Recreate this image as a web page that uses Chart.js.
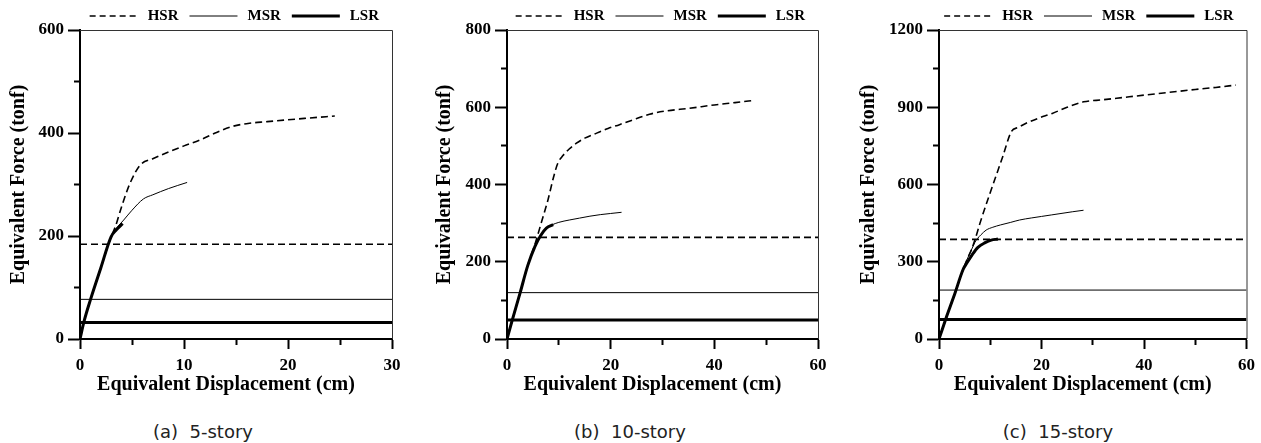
<!DOCTYPE html>
<html>
<head>
<meta charset="utf-8">
<script src="https://cdn.jsdelivr.net/npm/chart.js@4.4.1/dist/chart.umd.min.js"></script>
<style>
  body { margin: 0; background: #fff; width: 1261px; height: 443px; overflow: hidden; position: relative; }
  canvas { position: absolute; top: 0; }
  .caption { position: absolute; top: 420px; line-height: 24px; transform: translateX(-50%);
    font-family: "DejaVu Sans", sans-serif; font-size: 18px; color: #222; white-space: pre; }
</style>
</head>
<body>
<canvas id="c0" width="420" height="400" style="left:0px"></canvas>
<canvas id="c1" width="420" height="400" style="left:420px"></canvas>
<canvas id="c2" width="421" height="400" style="left:840px"></canvas>
<div class="caption" style="left:203px">(a)  5-story</div>
<div class="caption" style="left:630px">(b)  10-story</div>
<div class="caption" style="left:1058px">(c)  15-story</div>
<script>
// pushover curves: displacement (cm) vs. base shear (tonf)
// 5-story
const disp5HSR = [0, 0.4, 1, 2, 3, 3.4, 4, 4.8, 5.8, 7, 8.6, 10, 11.5, 13, 14.7, 16.3, 18, 19.6, 22, 24.5];
const force5HSR = [0, 35, 76, 138, 199, 218, 257, 302, 338, 350, 364, 375, 386, 400, 413, 419, 422, 425, 429, 433];
const disp5MSR = [0, 0.4, 1, 2, 3, 3.5, 4.2, 5, 6.1, 7, 8.5, 10.3];
const force5MSR = [0, 35, 76, 138, 199, 215, 231, 250, 272, 280, 292, 304];
const disp5LSR = [0, 0.4, 1, 2, 3, 3.5, 4.1];
const force5LSR = [0, 35, 76, 138, 199, 212, 224];
const design5 = [184, 77, 32]; // HSR, MSR, LSR

// 10-story
const disp10HSR = [0, 1, 2.5, 4, 5.5, 6.7, 7.9, 9, 9.8, 10.8, 12, 13.4, 15, 17.3, 19.5, 21.7, 24, 27.5, 31, 35, 40, 44, 47.8];
const force10HSR = [0, 48, 118, 190, 250, 305, 360, 420, 455, 475, 492, 507, 520, 533, 545, 555, 566, 582, 591, 597, 606, 612, 618];
const disp10MSR = [0, 1, 2.5, 4, 5.4, 6.5, 7.6, 8.6, 10, 12, 14, 16, 18, 20, 22.1];
const force10MSR = [0, 48, 118, 190, 240, 268, 287, 295, 302, 308, 313, 318, 322, 325, 328];
const disp10LSR = [0, 1, 2.5, 4, 5.4, 6.5, 7.6, 8.9];
const force10LSR = [0, 48, 118, 190, 240, 268, 287, 296];
const design10 = [263, 120, 49];

// 15-story
const disp15HSR = [0, 1.5, 3.1, 4.7, 5.5, 6.3, 7, 8, 9.5, 11, 12.5, 14.1, 15.5, 17, 19.5, 22.1, 25, 28.2, 32, 36, 40, 45, 50, 54, 57.9];
const force15HSR = [0, 88, 177, 270, 310, 345, 384, 450, 540, 626, 712, 805, 822, 838, 858, 876, 900, 921, 929, 938, 947, 958, 969, 977, 986];
const disp15MSR = [0, 1.5, 3.1, 4.7, 5.5, 6.3, 7, 7.5, 8.2, 9.2, 10.5, 12, 14, 15.7, 18, 20, 22, 24, 26, 28.2];
const force15MSR = [0, 88, 177, 270, 310, 345, 375, 390, 405, 423, 434, 443, 453, 462, 470, 476, 482, 488, 494, 500];
const disp15LSR = [0, 1.5, 3.1, 4.7, 5.4, 6.5, 7.6, 9, 10.2, 11.5];
const force15LSR = [0, 88, 177, 270, 294, 328, 356, 374, 384, 388];
const design15 = [387, 190, 76];

// axis ranges and tick spacing per panel
const xMax = [30, 60, 60];
const xStep = [5, 10, 10];
const yMax = [600, 800, 1200];
const yStep = [100, 100, 150];
const seriesNames = ['HSR', 'MSR', 'LSR'];

const serif = '"Liberation Serif", "Times New Roman", serif';
const styles = [
  { borderWidth: 1.6, borderDash: [7, 4] },
  { borderWidth: 1, borderDash: [] },
  { borderWidth: 3, borderDash: [] },
];

// legend drawn as short line samples right-aligned above the plot
const lineKey = {
  id: 'lineKey',
  afterDraw(chart) {
    const { ctx, chartArea } = chart;
    const items = chart.data.datasets.filter(d => d.label);
    ctx.save();
    ctx.font = 'bold 15px ' + serif;
    ctx.textBaseline = 'middle';
    let x = chartArea.right - 13;
    const y = 16;
    for (let i = items.length - 1; i >= 0; i--) {
      const d = items[i];
      const w = ctx.measureText(d.label).width;
      x -= w;
      ctx.fillStyle = '#000';
      ctx.fillText(d.label, x, y);
      x -= 10;
      ctx.beginPath();
      ctx.setLineDash(i === 0 ? [6, 4] : []);
      ctx.lineWidth = d.borderWidth;
      ctx.strokeStyle = '#000';
      ctx.moveTo(x - 48, y);
      ctx.lineTo(x, y);
      ctx.stroke();
      x -= 48 + 11;
    }
    ctx.restore();
  }
};

// thin top and right edges of the plot box
const frame = {
  id: 'frame',
  afterDatasetsDraw(chart) {
    const { ctx, chartArea: a } = chart;
    ctx.save();
    ctx.strokeStyle = '#333';
    ctx.lineWidth = 1;
    ctx.beginPath();
    ctx.moveTo(a.left, a.top + 0.5);
    ctx.lineTo(a.right + 0.5, a.top + 0.5);
    ctx.lineTo(a.right + 0.5, a.bottom);
    ctx.stroke();
    ctx.restore();
  }
};

function toPoints(xs, ys) {
  return xs.map((x, i) => ({ x: x, y: ys[i] }));
}

function makePanel(id, n, curves, levels, box) {
  const datasets = [];
  levels.forEach((v, i) => {
    datasets.push({
      data: [{ x: 0, y: v }, { x: xMax[n], y: v }],
      borderColor: '#000',
      borderWidth: styles[i].borderWidth,
      borderDash: styles[i].borderDash,
    });
  });
  curves.forEach((c, i) => {
    datasets.push({
      label: seriesNames[i],
      data: toPoints(c[0], c[1]),
      borderColor: '#000',
      borderWidth: styles[i].borderWidth,
      borderDash: styles[i].borderDash,
      cubicInterpolationMode: 'monotone',
    });
  });

  const xs = xStep[n], ys = yStep[n];
  new Chart(document.getElementById(id), {
    type: 'line',
    data: { datasets },
    plugins: [lineKey, frame],
    options: {
      responsive: false,
      animation: false,
      devicePixelRatio: 1,
      layout: { padding: { top: 30, right: box.padRight, left: 0, bottom: 0 } },
      elements: { point: { radius: 0 } },
      plugins: { legend: { display: false }, tooltip: { enabled: false } },
      scales: {
        x: {
          type: 'linear',
          min: 0,
          max: xMax[n],
          afterFit: s => { s.height = 61; },
          border: { color: '#000', width: 2 },
          grid: {
            drawOnChartArea: false,
            tickLength: 10,
            tickWidth: 2,
            tickColor: '#000',
            tickBorderDash: c => (c.tick && c.tick.value % (2 * xs) !== 0) ? [5, 40] : [],
          },
          ticks: {
            stepSize: xs,
            autoSkip: false,
            maxRotation: 0,
            padding: 6,
            color: '#000',
            font: { family: serif, size: 17, weight: 'bold' },
            callback: v => v % (2 * xs) === 0 ? v : '',
          },
          title: {
            display: true,
            // trailing spaces nudge the centred title slightly left
            text: 'Equivalent Displacement (cm)\u00a0\u00a0\u00a0\u00a0',
            color: '#000',
            font: { family: serif, size: 20, weight: 'bold' },
            padding: { top: 0, bottom: 3 },
          },
        },
        y: {
          type: 'linear',
          min: 0,
          max: yMax[n],
          afterFit: s => { s.width = box.left; },
          border: { color: '#000', width: 2 },
          grid: {
            drawOnChartArea: false,
            tickLength: 12,
            tickWidth: 2,
            tickColor: '#000',
            tickBorderDash: c => (c.tick && c.tick.value % (2 * ys) !== 0) ? [0, 6, 5, 40] : [],
          },
          ticks: {
            stepSize: ys,
            autoSkip: false,
            padding: 4,
            color: '#000',
            font: { family: serif, size: 17, weight: 'bold' },
            callback: v => v % (2 * ys) === 0 ? v : '',
          },
          title: {
            display: true,
            text: 'Equivalent Force (tonf)',
            color: '#000',
            font: { family: serif, size: 20, weight: 'bold' },
            padding: { top: box.titlePad, bottom: 0 },
          },
        },
      },
    },
  });
}

makePanel('c0', 0,
  [[disp5HSR, force5HSR], [disp5MSR, force5MSR], [disp5LSR, force5LSR]],
  design5, { left: 80, padRight: 28, titlePad: 7 });
makePanel('c1', 1,
  [[disp10HSR, force10HSR], [disp10MSR, force10MSR], [disp10LSR, force10LSR]],
  design10, { left: 87, padRight: 22, titlePad: 13 });
makePanel('c2', 2,
  [[disp15HSR, force15HSR], [disp15MSR, force15MSR], [disp15LSR, force15LSR]],
  design15, { left: 99, padRight: 12, titlePad: 17 });
</script>
</body>
</html>
